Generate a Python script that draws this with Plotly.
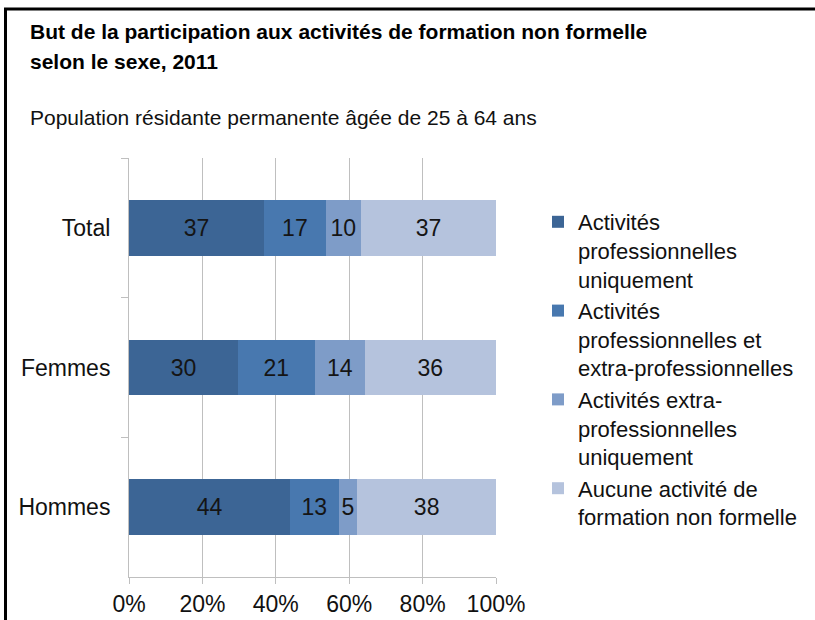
import plotly.graph_objects as go

categories = ["Total", "Femmes", "Hommes"]
series_names = [
    "Activités<br>professionnelles<br>uniquement",
    "Activités<br>professionnelles et<br>extra-professionnelles",
    "Activités extra-<br>professionnelles<br>uniquement",
    "Aucune activité de<br>formation non formelle",
]
pro_only = [36.8, 29.7, 43.9]
pro_and_extra = [16.8, 20.9, 13.2]
extra_only = [9.6, 13.7, 5.1]
none_activity = [36.8, 35.6, 37.8]
colors = ["#3C6595", "#4878AF", "#7E9CC8", "#B5C3DD"]
x_ticks = [0, 20, 40, 60, 80, 100]
x_tick_labels = ["0%", "20%", "40%", "60%", "80%", "100%"]

FONT = "Liberation Sans, Arial, sans-serif"
W, H = 815, 620
L, R, T, B = 129, 319, 158, 43
pw, ph = W - L - R, H - T - B


def px_x(p):
    return (p - L) / pw


def px_y(p):
    return (H - B - p) / ph


fig = go.Figure()
for name, vals, col in zip(series_names, [pro_only, pro_and_extra, extra_only, none_activity], colors):
    fig.add_trace(go.Bar(
        y=categories, x=vals, name=name, orientation="h",
        marker=dict(color=col, line=dict(width=0)),
        texttemplate="%{x:.0f}", textposition="inside", insidetextanchor="middle",
        textfont=dict(family=FONT, size=23, color="#151515"),
        legendgroup=name,
    ))

fig.update_layout(
    width=W, height=H,
    margin=dict(l=L, r=R, t=T, b=B, autoexpand=False),
    barmode="stack", bargap=0.6,
    paper_bgcolor="white", plot_bgcolor="white",
    font=dict(family=FONT, size=22, color="#111111"),
    uniformtext=dict(minsize=23, mode="show"),
    showlegend=True,
    legend=dict(
        x=px_x(538), xanchor="left", y=px_y(201), yanchor="top",
        traceorder="normal", valign="top", tracegroupgap=5,
        font=dict(family=FONT, size=22, color="#111111"),
        bgcolor="rgba(0,0,0,0)",
    ),
    xaxis=dict(
        range=[0, 100], tickvals=x_ticks, ticktext=x_tick_labels,
        showgrid=True, gridcolor="#BFBFBF", gridwidth=1,
        showline=True, linecolor="#BFBFBF", linewidth=1,
        ticks="outside", ticklen=6, tickcolor="#BFBFBF",
        tickfont=dict(family=FONT, size=23, color="#111111"),
        zeroline=False, fixedrange=True,
    ),
    yaxis=dict(
        categoryorder="array", categoryarray=categories, autorange="reversed",
        showline=True, linecolor="#BFBFBF", linewidth=1,
        ticks="outside", ticklen=7, tickcolor="#BFBFBF", tickson="boundaries",
        tickfont=dict(family=FONT, size=23, color="#111111"),
        showgrid=False, ticklabelstandoff=13, fixedrange=True,
    ),
    annotations=[
        dict(text="<b>But de la participation aux activités de formation non formelle</b>",
             xref="paper", yref="paper", x=px_x(28), y=px_y(32),
             xanchor="left", yanchor="middle", showarrow=False,
             font=dict(family=FONT, size=21, color="#000000")),
        dict(text="<b>selon le sexe, 2011</b>",
             xref="paper", yref="paper", x=px_x(28), y=px_y(62),
             xanchor="left", yanchor="middle", showarrow=False,
             font=dict(family=FONT, size=21, color="#000000")),
        dict(text="Population résidante permanente âgée de 25 à 64 ans",
             xref="paper", yref="paper", x=px_x(28), y=px_y(117),
             xanchor="left", yanchor="middle", showarrow=False,
             font=dict(family=FONT, size=21, color="#111111")),
    ],
    shapes=[
        dict(type="line", xref="paper", yref="paper", x0=px_x(4), x1=px_x(820),
             y0=px_y(9), y1=px_y(9), line=dict(color="black", width=3)),
        dict(type="line", xref="paper", yref="paper", x0=px_x(5.5), x1=px_x(5.5),
             y0=px_y(8), y1=px_y(630), line=dict(color="black", width=3)),
    ],
)

fig.write_html("out.html", config={"displayModeBar": False},
               post_script="document.body.style.margin='0';")
